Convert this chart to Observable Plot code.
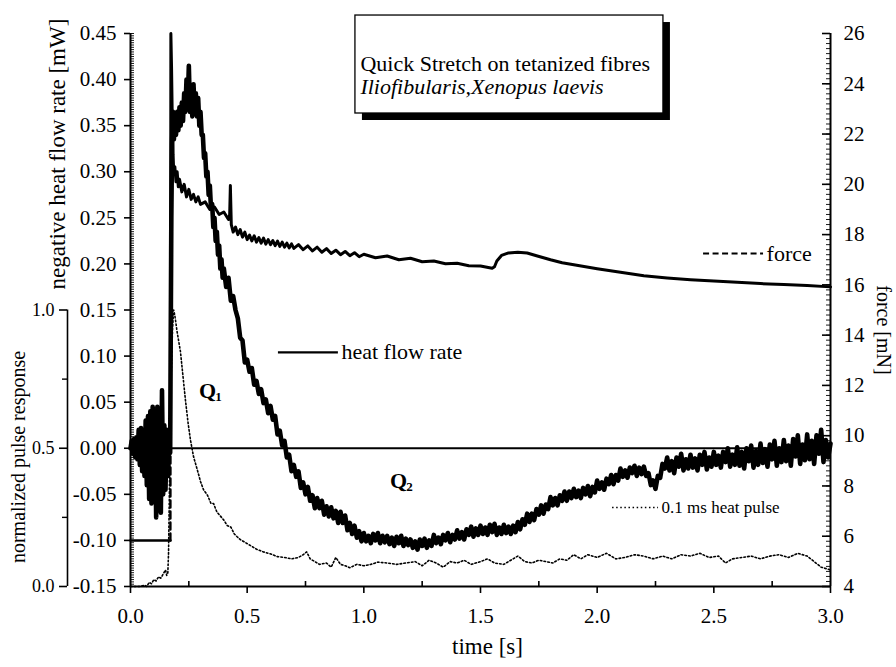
<!DOCTYPE html>
<html><head><meta charset="utf-8">
<script src="https://cdn.jsdelivr.net/npm/d3@7"></script>
<script src="https://cdn.jsdelivr.net/npm/@observablehq/plot@0.6"></script>
<style>body{margin:0;background:#fff;} #chart{width:896px;height:667px;}</style>
</head><body><div id="chart"></div>
<script>
// ---------- data ----------
// heat flow rate, time [s] vs negative heat flow rate [mW]
const heatPre = [[0.000,0.000],[0.005,0.008],[0.010,-0.006],[0.015,0.010],[0.020,-0.010],[0.025,0.012],[0.030,-0.012],[0.035,0.020],[0.040,-0.018],[0.045,0.022],[0.050,-0.025],[0.055,0.018],[0.060,-0.030],[0.065,0.030],[0.070,-0.040],[0.075,0.035],[0.080,-0.055],[0.085,0.040],[0.090,-0.060],[0.095,0.045],[0.100,-0.050],[0.105,0.035],[0.110,-0.075],[0.115,0.045],[0.120,-0.065],[0.125,0.030],[0.130,-0.070],[0.135,0.063],[0.140,-0.050],[0.145,0.025],[0.150,-0.045],[0.155,0.020],[0.160,-0.030],[0.165,0.015],[0.170,-0.005]];
const heatRise = [[0.172,0.10],[0.175,0.25],[0.178,0.33],[0.182,0.365],[0.186,0.335],[0.19,0.36],[0.195,0.34],[0.20,0.365],[0.205,0.345],[0.21,0.37],[0.215,0.35],[0.22,0.375],[0.225,0.355],[0.23,0.385],[0.235,0.365],[0.24,0.40],[0.245,0.37],[0.25,0.415],[0.255,0.365],[0.26,0.39],[0.265,0.36],[0.27,0.395],[0.275,0.365],[0.28,0.385],[0.285,0.36],[0.29,0.38],[0.295,0.35],[0.30,0.365],[0.305,0.34],[0.31,0.34],[0.315,0.315],[0.32,0.32],[0.325,0.295],[0.33,0.30],[0.335,0.275],[0.34,0.285],[0.345,0.26],[0.35,0.265],[0.355,0.24],[0.36,0.25],[0.365,0.225],[0.37,0.235],[0.375,0.21],[0.38,0.22],[0.385,0.195],[0.39,0.205],[0.395,0.185],[0.40,0.195],[0.41,0.175],[0.42,0.185],[0.43,0.16],[0.44,0.165],[0.45,0.150]];
const heatDecay = [[0.46,0.141],[0.47,0.120],[0.48,0.117],[0.49,0.093],[0.50,0.096],[0.51,0.083],[0.52,0.087],[0.53,0.069],[0.54,0.073],[0.55,0.059],[0.56,0.064],[0.57,0.049],[0.58,0.053],[0.59,0.038],[0.60,0.046],[0.61,0.031],[0.62,0.035],[0.63,0.015],[0.64,0.019],[0.65,0.003],[0.66,0.008],[0.67,-0.010],[0.68,-0.007],[0.69,-0.025],[0.70,-0.018],[0.71,-0.031],[0.72,-0.025],[0.73,-0.043],[0.74,-0.037],[0.75,-0.050],[0.76,-0.042],[0.77,-0.057],[0.78,-0.051],[0.79,-0.065],[0.80,-0.054],[0.81,-0.065],[0.82,-0.057],[0.83,-0.072],[0.84,-0.063],[0.85,-0.074],[0.86,-0.064],[0.87,-0.076],[0.88,-0.068],[0.89,-0.081],[0.90,-0.069],[0.91,-0.081],[0.92,-0.073],[0.93,-0.089],[0.94,-0.081],[0.95,-0.093],[0.96,-0.084],[0.97,-0.097],[0.98,-0.090],[0.99,-0.101]];
const heatLate = [[1.00,-0.092],[1.01,-0.101],[1.02,-0.095],[1.03,-0.103],[1.04,-0.093],[1.05,-0.100],[1.06,-0.092],[1.07,-0.103],[1.08,-0.095],[1.09,-0.102],
[1.10,-0.095],[1.11,-0.104],[1.12,-0.097],[1.13,-0.106],[1.14,-0.096],[1.15,-0.103],[1.16,-0.095],[1.17,-0.106],[1.18,-0.098],[1.19,-0.105],
[1.20,-0.099],[1.21,-0.108],[1.22,-0.101],[1.23,-0.110],[1.24,-0.099],[1.25,-0.106],[1.26,-0.098],[1.27,-0.108],[1.28,-0.100],[1.29,-0.106],
[1.30,-0.094],[1.31,-0.103],[1.32,-0.097],[1.33,-0.104],[1.34,-0.094],[1.35,-0.100],[1.36,-0.092],[1.37,-0.102],[1.38,-0.094],[1.39,-0.099],
[1.40,-0.089],[1.41,-0.098],[1.42,-0.091],[1.43,-0.099],[1.44,-0.088],[1.45,-0.094],[1.46,-0.085],[1.47,-0.096],[1.48,-0.087],[1.49,-0.094],
[1.50,-0.084],[1.51,-0.093],[1.52,-0.086],[1.53,-0.094],[1.54,-0.083],[1.55,-0.091],[1.56,-0.082],[1.57,-0.094],[1.58,-0.086],[1.59,-0.093],
[1.60,-0.083],[1.61,-0.092],[1.62,-0.085],[1.63,-0.093],[1.64,-0.084],[1.65,-0.091],[1.66,-0.080],[1.67,-0.088],[1.68,-0.077],[1.69,-0.083],
[1.70,-0.071],[1.71,-0.080],[1.72,-0.071],[1.73,-0.078],[1.74,-0.066],[1.75,-0.072],[1.76,-0.062],[1.77,-0.071],[1.78,-0.061],[1.79,-0.066],
[1.80,-0.053],[1.81,-0.062],[1.82,-0.054],[1.83,-0.062],[1.84,-0.051],[1.85,-0.057],[1.86,-0.047],[1.87,-0.057],[1.88,-0.047],[1.89,-0.054],
[1.90,-0.044],[1.91,-0.053],[1.92,-0.046],[1.93,-0.054],[1.94,-0.043],[1.95,-0.050],[1.96,-0.041],[1.97,-0.052],[1.98,-0.042],[1.99,-0.048],
[2.00,-0.035],[2.01,-0.044],[2.02,-0.037],[2.03,-0.045],[2.04,-0.033],[2.05,-0.039],[2.06,-0.029],[2.07,-0.039],[2.08,-0.029],[2.09,-0.035],
[2.10,-0.022],[2.11,-0.031],[2.12,-0.024],[2.13,-0.032],[2.14,-0.021],[2.15,-0.027],[2.16,-0.019],[2.17,-0.030],[2.18,-0.021],[2.19,-0.028],
[2.20,-0.020],[2.21,-0.030],[2.22,-0.027],[2.23,-0.040],[2.24,-0.035],[2.25,-0.044],[2.26,-0.030],[2.27,-0.032],[2.28,-0.017],[2.29,-0.022],
[2.30,-0.010],[2.31,-0.024],[2.32,-0.014],[2.33,-0.027],[2.34,-0.010],[2.35,-0.020],[2.36,-0.006],[2.37,-0.024],[2.38,-0.012],[2.39,-0.022],
[2.40,-0.007],[2.41,-0.021],[2.42,-0.011],[2.43,-0.024],[2.44,-0.007],[2.45,-0.018],[2.46,-0.004],[2.47,-0.023],[2.48,-0.010],[2.49,-0.020],
[2.50,-0.004],[2.51,-0.018],[2.52,-0.008],[2.53,-0.021],[2.54,-0.004],[2.55,-0.015],[2.56,0.000],[2.57,-0.020],[2.58,-0.007],[2.59,-0.018],
[2.60,0.001],[2.61,-0.019],[2.62,-0.004],[2.63,-0.022],[2.64,0.000],[2.65,-0.014],[2.66,0.003],[2.67,-0.021],[2.68,-0.003],[2.69,-0.018],
[2.70,0.005],[2.71,-0.016],[2.72,-0.001],[2.73,-0.020],[2.74,0.004],[2.75,-0.012],[2.76,0.008],[2.77,-0.019],[2.78,0.000],[2.79,-0.015],
[2.80,0.009],[2.81,-0.014],[2.82,0.003],[2.83,-0.019],[2.84,0.010],[2.85,-0.009],[2.86,0.014],[2.87,-0.017],[2.88,0.004],[2.89,-0.013],
[2.90,0.015],[2.91,-0.012],[2.92,0.008],[2.93,-0.017],[2.94,0.014],[2.95,-0.006],[2.96,0.020],[2.97,-0.015],[2.98,0.009],[2.99,-0.010],[3.00,0.005]];

// force, time [s] vs force [mN]
const forcePre = [[0.000,5.83],[0.171,5.83]];
const forceJump = [[0.171,5.83],[0.172,16.5]];
const forcePost = [[0.172,16.5],[0.173,26.0],[0.176,24.6],[0.179,22.6],[0.182,21.2],[0.186,20.4],[0.19,20.7],[0.195,20.1],[0.20,20.5],[0.205,19.9],[0.21,20.2],[0.22,19.7],[0.23,20.0],[0.24,19.5],[0.25,19.8],[0.26,19.4],[0.27,19.6],[0.28,19.3],[0.29,19.5],[0.30,19.2],[0.32,19.3],[0.34,19.0],[0.36,19.1],[0.38,18.8],[0.40,18.9],[0.42,18.6],[0.425,18.8],[0.428,19.95],[0.432,18.4],[0.44,18.1],[0.45,18.3],[0.46,18.0],[0.47,18.2],[0.48,17.9],[0.49,18.1],[0.50,17.8],[0.51,17.98],[0.52,17.75],[0.53,17.95],[0.54,17.7],[0.55,17.88],[0.56,17.66],[0.57,17.86],[0.58,17.62],[0.59,17.8],[0.60,17.6],[0.61,17.76],[0.62,17.56],[0.63,17.74],[0.64,17.53],[0.65,17.7],[0.66,17.5],[0.67,17.66],[0.68,17.47],[0.69,17.63],[0.70,17.45],[0.72,17.6],[0.74,17.4],[0.76,17.55],[0.78,17.35],[0.80,17.5],[0.82,17.3],[0.84,17.44],[0.86,17.25],[0.88,17.38],[0.90,17.2],[0.92,17.33],[0.94,17.16],[0.96,17.28],[0.98,17.12],[1.00,17.22],[1.05,17.08],[1.10,17.15],[1.15,17.0],[1.20,17.06],[1.25,16.92],[1.30,16.95],[1.35,16.84],[1.40,16.86],[1.45,16.76],[1.50,16.75],[1.55,16.66],[1.56,16.72],[1.57,16.95],[1.59,17.17],[1.62,17.27],[1.66,17.3],[1.70,17.27],[1.74,17.16],[1.80,17.0],[1.85,16.88],[1.90,16.8],[2.00,16.64],[2.10,16.5],[2.20,16.36],[2.30,16.27],[2.40,16.2],[2.50,16.15],[2.60,16.1],[2.70,16.05],[2.80,16.01],[2.90,15.97],[3.00,15.92]];

// 0.1 ms heat pulse, time [s] vs normalized pulse response
const pulse = [[0,0],[0.02,0.0],[0.04,0.0],[0.06,0.005],[0.07,0.0],[0.08,0.015],[0.09,0.01],[0.10,0.025],[0.11,0.02],[0.12,0.035],[0.13,0.03],[0.14,0.045],[0.15,0.06],[0.155,0.04],[0.16,0.05],[0.163,0.12],[0.166,0.3],[0.17,0.55],[0.175,0.78],[0.18,0.93],[0.185,1.0],[0.19,0.98],[0.20,0.92],[0.214,0.85],[0.225,0.76],[0.236,0.67],[0.247,0.59],[0.257,0.53],[0.27,0.47],[0.287,0.42],[0.30,0.38],[0.313,0.35],[0.33,0.33],[0.345,0.30],[0.356,0.30],[0.37,0.27],[0.385,0.255],[0.40,0.24],[0.415,0.22],[0.43,0.215],[0.445,0.19],[0.457,0.18],[0.47,0.17],[0.49,0.16],[0.51,0.15],[0.54,0.135],[0.57,0.125],[0.60,0.118],[0.63,0.108],[0.66,0.105],[0.69,0.10],[0.72,0.105],[0.74,0.115],[0.755,0.125],[0.77,0.10],[0.79,0.09],[0.81,0.08],[0.84,0.085],[0.86,0.07],[0.88,0.105],[0.90,0.08],[0.92,0.075],[0.94,0.068],[0.97,0.08],[1.00,0.075],[1.03,0.08],[1.06,0.088],[1.10,0.085],[1.14,0.08],[1.18,0.085],[1.22,0.09],[1.25,0.075],[1.28,0.095],[1.31,0.085],[1.34,0.07],[1.37,0.09],[1.40,0.085],[1.43,0.095],[1.46,0.08],[1.50,0.09],[1.53,0.10],[1.56,0.085],[1.60,0.08],[1.63,0.095],[1.66,0.11],[1.69,0.09],[1.72,0.085],[1.75,0.095],[1.78,0.09],[1.81,0.085],[1.84,0.10],[1.87,0.095],[1.90,0.115],[1.93,0.10],[1.96,0.115],[2.00,0.105],[2.04,0.12],[2.08,0.10],[2.12,0.105],[2.16,0.115],[2.20,0.11],[2.24,0.10],[2.28,0.11],[2.32,0.10],[2.36,0.115],[2.40,0.11],[2.44,0.12],[2.48,0.105],[2.52,0.11],[2.55,0.085],[2.58,0.10],[2.62,0.105],[2.66,0.11],[2.70,0.10],[2.74,0.11],[2.78,0.115],[2.82,0.105],[2.86,0.12],[2.90,0.11],[2.93,0.09],[2.96,0.07],[3.00,0.06]];

// tick labels
const timeTicks = [0, 0.5, 1.0, 1.5, 2.0, 2.5, 3.0];
const heatTicks = [-0.15, -0.10, -0.05, 0.00, 0.05, 0.10, 0.15, 0.20, 0.25, 0.30, 0.35, 0.40, 0.45];
const forceTicks = [4, 6, 8, 10, 12, 14, 16, 18, 20, 22, 24, 26];
const normTicks = [0.0, 0.5, 1.0];

// texts
const titleLines = ["Quick Stretch on tetanized fibres", "Iliofibularis,Xenopus laevis"];
const legendHeat = "heat flow rate";
const legendForce = "force";
const legendPulse = "0.1 ms heat pulse";

// ---------- layout ----------
const W = 896, H = 667, mL = 130, mR = 66, mT = 33, mB = 81;
const tDom = [0, 3], hDom = [-0.15, 0.45], fDom = [4, 26], nDom = [0, 1];
const pxT = (tDom[1] - tDom[0]) / (W - mL - mR);
const pxH = (hDom[1] - hDom[0]) / (H - mT - mB);
const f2h = f => hDom[0] + (f - fDom[0]) * (hDom[1] - hDom[0]) / (fDom[1] - fDom[0]);
const h2f = h => fDom[0] + (h - hDom[0]) * (fDom[1] - fDom[0]) / (hDom[1] - hDom[0]);
const n2h = n => -0.15 + n * 0.3;
const h2n = h => (h + 0.15) / 0.3;

const heat = [...heatPre, ...heatRise, ...heatDecay, ...heatLate];
const X = d => d[0];
const serif = '"Liberation Serif", "Times New Roman", serif';

const heatMinor = d3.range(-0.15, 0.4501, 0.0025);
const forceMinor = d3.range(4, 26.001, 0.2);
const timeMinor = [0.25, 0.75, 1.25, 1.75, 2.25, 2.75];
const normX = -63 * pxT;

const box = {x1: 0.964, x2: 2.284, y1: 0.3632, y2: 0.4695};

const chart = Plot.plot({
  width: W, height: H,
  marginLeft: mL, marginRight: mR, marginTop: mT, marginBottom: mB,
  x: {domain: tDom},
  y: {domain: hDom},
  style: {fontFamily: serif, fontSize: "21px", color: "black", background: "white", overflow: "visible"},
  marks: [
    // title box with shadow
    Plot.rect([box], {x1: "x1", x2: "x2", y1: "y1", y2: "y2", fill: "black", dx: 7, dy: 7}),
    Plot.rect([box], {x1: "x1", x2: "x2", y1: "y1", y2: "y2", fill: "white", stroke: "black", strokeWidth: 1.3}),
    Plot.text([titleLines[0]], {x: box.x1 + 5 * pxT, y: 0.4175, text: d => d, textAnchor: "start", lineAnchor: "middle", fontSize: 22}),
    Plot.text([titleLines[1]], {x: box.x1 + 5 * pxT, y: 0.3925, text: d => d, textAnchor: "start", lineAnchor: "middle", fontSize: 22, fontStyle: "italic"}),

    // zero line
    Plot.ruleY([0], {x1: 0.171, x2: 3, strokeWidth: 1.8}),

    // pulse (dotted)
    Plot.line(pulse, {x: X, y: d => n2h(d[1]), stroke: "black", strokeWidth: 1.6, strokeDasharray: "1.6,2.2"}),

    // force
    Plot.line(forcePre, {x: X, y: d => f2h(d[1]), stroke: "black", strokeWidth: 2.6}),
    Plot.line(forceJump, {x: X, y: d => f2h(d[1]), stroke: "black", strokeWidth: 2.4, strokeDasharray: "7,4"}),
    Plot.line(forcePost, {x: X, y: d => f2h(d[1]), stroke: "black", strokeWidth: 3, strokeLinejoin: "round"}),

    // heat flow rate
    Plot.line(heat, {x: X, y: d => d[1], stroke: "black", strokeWidth: 4.6, strokeLinejoin: "round"}),

    // axis lines
    Plot.ruleX([tDom[0]], {y1: hDom[0], y2: hDom[1], strokeWidth: 2}),
    Plot.ruleX([tDom[1]], {y1: hDom[0], y2: hDom[1], strokeWidth: 2}),
    Plot.ruleY([hDom[0]], {x1: tDom[0], x2: tDom[1], strokeWidth: 2}),
    Plot.ruleX([normX], {y1: n2h(0), y2: n2h(1), strokeWidth: 1.6}),

    // minor ticks (inward)
    Plot.ruleY(heatMinor, {x1: 0, x2: 4 * pxT, strokeWidth: 0.9}),
    Plot.ruleY(forceMinor.map(f2h), {x1: 3 - 4 * pxT, x2: 3, strokeWidth: 0.9}),
    Plot.ruleY(forceTicks.map(f2h), {x1: 3 - 8 * pxT, x2: 3, strokeWidth: 1.6}),
    Plot.ruleX(timeMinor, {y1: hDom[0], y2: hDom[0] + 5 * pxH, strokeWidth: 1.6}),
    Plot.ruleY([n2h(0.25), n2h(0.75)], {x1: normX - 5 * pxT, x2: normX, strokeWidth: 1.4}),

    // axes
    Plot.axisY({anchor: "left", ticks: heatTicks, tickFormat: d => d.toFixed(2), tickSize: 6, tickPadding: 8, fontSize: 21, strokeWidth: 1.6, label: null}),
    Plot.axisY({anchor: "right", ticks: forceTicks.map(f2h), tickFormat: d => String(Math.round(h2f(d))), tickSize: 0, tickPadding: 13, fontSize: 21, label: null}),
    Plot.axisY({anchor: "left", ticks: normTicks.map(n2h), tickFormat: d => h2n(d).toFixed(1), dx: -63, tickSize: 8, tickPadding: 5, fontSize: 18, strokeWidth: 1.6, label: null}),
    Plot.axisX({anchor: "bottom", ticks: timeTicks, tickFormat: d => d.toFixed(1), tickSize: 7, tickPadding: 15, fontSize: 21, strokeWidth: 1.6, label: null}),

    // axis titles
    Plot.text(["negative heat flow rate [mW]"], {frameAnchor: "left", text: d => d, rotate: -90, textAnchor: "middle", lineAnchor: "middle", dx: -73, dy: -156, fontSize: 23}),
    Plot.text(["normalized pulse response"], {frameAnchor: "left", text: d => d, rotate: -90, textAnchor: "middle", lineAnchor: "middle", dx: -112, dy: 147, fontSize: 20}),
    Plot.text(["force [mN]"], {frameAnchor: "right", text: d => d, rotate: 90, textAnchor: "middle", lineAnchor: "middle", dx: 53, dy: 20, fontSize: 20}),
    Plot.text(["time [s]"], {frameAnchor: "bottom", text: d => d, textAnchor: "middle", lineAnchor: "middle", dx: 7, dy: 60, fontSize: 23}),

    // Q labels
    Plot.text(["Q"], {x: 0.33, y: 0.0627, text: d => d, fontWeight: "bold", fontSize: 22}),
    Plot.text(["1"], {x: 0.33, y: 0.0627, text: d => d, dx: 11, dy: 6, fontWeight: "bold", fontSize: 13}),
    Plot.text(["Q"], {x: 1.149, y: -0.035, text: d => d, fontWeight: "bold", fontSize: 22}),
    Plot.text(["2"], {x: 1.149, y: -0.035, text: d => d, dx: 11, dy: 6, fontWeight: "bold", fontSize: 13}),

    // legends
    Plot.ruleY([0.104], {x1: 0.634, x2: 0.891, strokeWidth: 2.4}),
    Plot.text([legendHeat], {x: 0.904, y: 0.104, text: d => d, textAnchor: "start", fontSize: 22}),
    Plot.ruleY([0.2113], {x1: 2.456, x2: 2.713, strokeWidth: 2, strokeDasharray: "6,3.5"}),
    Plot.text([legendForce], {x: 2.726, y: 0.2113, text: d => d, textAnchor: "start", fontSize: 22}),
    Plot.ruleY([-0.0643], {x1: 2.066, x2: 2.263, strokeWidth: 1.3, strokeDasharray: "1.5,2.6"}),
    Plot.text([legendPulse], {x: 2.276, y: -0.0643, text: d => d, textAnchor: "start", fontSize: 17})
  ]
});
document.getElementById("chart").appendChild(chart);
</script>
</body></html>
